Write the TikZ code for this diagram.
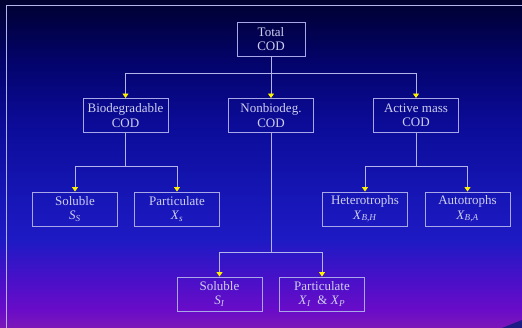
\documentclass[tikz,border=0pt]{standalone}
\usepackage{fontspec}
\setmainfont{Liberation Serif}
\usetikzlibrary{arrows.meta}
\definecolor{boxline}{HTML}{A8A8E8}
\definecolor{linec}{HTML}{B4B4EC}
\definecolor{txt}{HTML}{CFCFF0}
\definecolor{bg0}{HTML}{000030}
\definecolor{bg1}{HTML}{03036A}
\definecolor{bg2}{HTML}{0B0B96}
\definecolor{bg3}{HTML}{1414B0}
\definecolor{bg4}{HTML}{1E1AC4}
\definecolor{bg5}{HTML}{4A10C8}
\definecolor{bg6}{HTML}{6A0CC8}
\definecolor{bg7}{HTML}{7C18B8}
\definecolor{wedge}{HTML}{1C1C84}
\begin{document}
\begin{tikzpicture}[x=1pt,y=-1pt,
  box/.style={draw=boxline, line width=0.9pt, minimum width=85pt, minimum height=34pt,
    align=center, text=txt, font=\fontsize{13}{14.5}\selectfont, inner sep=0pt},
  conn/.style={draw=linec, line width=0.9pt},
  arr/.style={conn, -{Triangle[width=6pt,length=4.5pt,color=yellow]}}]
\useasboundingbox (0,0) rectangle (522,328);
% background
\shade[top color=bg0, bottom color=bg1] (0,0) rectangle (522,60.5);
\shade[top color=bg1, bottom color=bg2] (0,60) rectangle (522,120.5);
\shade[top color=bg2, bottom color=bg3] (0,120) rectangle (522,180.5);
\shade[top color=bg3, bottom color=bg4] (0,180) rectangle (522,240.5);
\shade[top color=bg4, bottom color=bg5] (0,240) rectangle (522,280.5);
\shade[top color=bg5, bottom color=bg6] (0,280) rectangle (522,310.5);
\shade[top color=bg6, bottom color=bg7] (0,310) rectangle (522,328);
\fill[wedge] (502,328) -- (522,320) -- (522,328) -- cycle;
% frame
\draw[linec, line width=1pt] (530,5.5) -- (6.5,5.5) -- (6.5,335);
% nodes
\node[box, minimum width=68pt] (tot) at (271,39) {Total\\COD};
\node[box] (bio) at (125.5,115.5) {Biodegradable\\COD};
\node[box] (non) at (271,115.5) {Nonbiodeg.\\COD};
\node[box] (act) at (416,115.5) {Active mass\\COD};
\node[box] (ss) at (75,209) {Soluble\\\textit{S}\textsubscript{\textit{S}}};
\node[box] (xs) at (177,209) {Particulate\\\textit{X}\textsubscript{\textit{s}}};
\node[box] (xbh) at (365,209) {Heterotrophs\\\textit{X}\textsubscript{\textit{B,H}}};
\node[box] (xba) at (467.5,209) {Autotrophs\\\textit{X}\textsubscript{\textit{B,A}}};
\node[box] (si) at (219.5,294) {Soluble\\\textit{S}\textsubscript{\textit{I}}};
\node[box] (xi) at (322,294) {Particulate\\\textit{X}\textsubscript{\textit{I}} \ \&~\textit{X}\textsubscript{\textit{P}}};
% junctions
\coordinate (j1) at (271,73);
\coordinate (j2) at (125.5,166);
\coordinate (j3) at (416,166);
\coordinate (j4) at (271,252);
% connectors
\draw[arr] (tot.south) -- (j1) -| (bio.north);
\draw[arr] (j1) -| (act.north);
\draw[arr] (tot.south) -- (non.north);
\draw[arr] (bio.south) -- (j2) -| (ss.north);
\draw[arr] (j2) -| (xs.north);
\draw[arr] (act.south) -- (j3) -| (xbh.north);
\draw[arr] (j3) -| (xba.north);
\draw[arr] (non.south) -- (j4) -| (si.north);
\draw[arr] (j4) -| (xi.north);
\end{tikzpicture}
\end{document}
